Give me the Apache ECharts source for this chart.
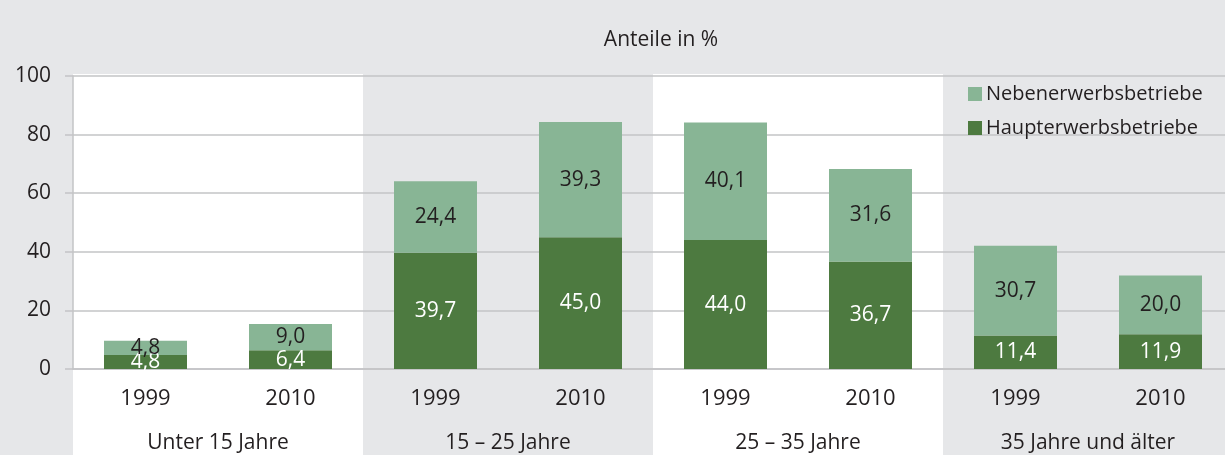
<!DOCTYPE html>
<html>
<head>
<meta charset="utf-8">
<script src="https://cdn.jsdelivr.net/npm/echarts@6/dist/echarts.min.js"></script>
<style>
  html, body { margin: 0; padding: 0; background: #e6e7e9; }
  #chart { width: 1225px; height: 455px; }
</style>
</head>
<body>
<div id="chart"></div>
<script>
// Daten
var years = ['1999', '2010', '1999', '2010', '1999', '2010', '1999', '2010'];
var groups = ['Unter 15 Jahre', '15 – 25 Jahre', '25 – 35 Jahre', '35 Jahre und älter'];
var haupt = [4.8, 6.4, 39.7, 45.0, 44.0, 36.7, 11.4, 11.9];
var neben = [4.8, 9.0, 24.4, 39.3, 40.1, 31.6, 30.7, 20.0];
var yTicks = [0, 20, 40, 60, 80, 100];

var FONT = 'Open Sans';
var TEXT = '#231f20';
var LINE = '#c3c4c6';

// Zahl mit Komma
var fmt = function(p) {
    return p.value.toFixed(1).replace('.', ',');
};

var chart = echarts.init(document.getElementById('chart'));

var option = {
    backgroundColor: '#e6e7e9',
    animation: false,
    textStyle: { fontFamily: FONT },
    title: {
        text: 'Anteile in %',
        left: 656,
        textAlign: 'center',
        top: 25,
        textStyle: { fontFamily: FONT, fontSize: 21, fontWeight: 'normal', color: TEXT }
    },
    legend: {
        data: ['Nebenerwerbsbetriebe', 'Haupterwerbsbetriebe'],
        orient: 'vertical',
        left: 963,
        top: 79,
        itemWidth: 14,
        itemHeight: 14,
        itemGap: 14,
        icon: 'rect',
        textStyle: { fontFamily: FONT, fontSize: 20, color: TEXT, padding: [0, 0, 0, -1] }
    },
    // Raster reicht rechts etwas über den Rand hinaus
    grid: {
        left: 73, width: 1160, top: 76, bottom: 86,
        containLabel: false,
        outerBoundsMode: 'none'
    },
    xAxis: [
        {
            type: 'category',
            data: years,
            axisLine: { lineStyle: { color: LINE, width: 1.5 } },
            axisTick: { interval: 0, length: 44, lineStyle: { color: LINE, width: 1.5 } },
            axisLabel: { interval: 0, margin: 19, fontSize: 22, color: TEXT, fontFamily: FONT }
        },
        {
            type: 'category',
            data: groups,
            position: 'bottom',
            axisLine: { show: false },
            axisTick: { interval: 0, length: 90, lineStyle: { color: LINE, width: 1.5 } },
            axisLabel: { interval: 0, margin: 64, fontSize: 21, color: TEXT, fontFamily: FONT }
        }
    ],
    yAxis: {
        type: 'value',
        min: yTicks[0],
        max: yTicks[yTicks.length - 1],
        interval: 20,
        axisLine: { show: true, lineStyle: { color: LINE, width: 1.5 } },
        axisTick: { show: true, length: 8, lineStyle: { color: LINE, width: 1.5 } },
        axisLabel: { fontSize: 21, color: TEXT, margin: 22, fontFamily: FONT },
        splitLine: { lineStyle: { color: LINE, width: 1.5 } }
    },
    series: [
        {
            // weisse Hintergrundbänder je Altersgruppe
            type: 'custom',
            name: 'bands',
            xAxisIndex: 1,
            z: -1,
            silent: true,
            data: groups.map(function(g, i) { return [i, 100]; }),
            renderItem: function(params, api) {
                if (params.dataIndex % 2 !== 0) {
                    return null;
                }
                var pt = api.coord([api.value(0), api.value(1)]);
                var w = api.size([1, 0])[0];
                return {
                    type: 'rect',
                    shape: { x: pt[0] - w / 2, y: pt[1] - 2, width: w, height: api.getHeight() - pt[1] + 2 },
                    style: { fill: '#ffffff' }
                };
            }
        },
        {
            name: 'Haupterwerbsbetriebe',
            type: 'bar',
            stack: 'total',
            barWidth: 83,
            data: haupt,
            itemStyle: { color: '#4d7a40' },
            label: {
                show: true,
                position: 'inside',
                formatter: fmt,
                color: '#ffffff',
                fontSize: 21,
                fontFamily: FONT
            }
        },
        {
            name: 'Nebenerwerbsbetriebe',
            type: 'bar',
            stack: 'total',
            barWidth: 83,
            data: neben,
            itemStyle: { color: '#88b595' },
            label: {
                show: true,
                position: 'inside',
                formatter: fmt,
                color: TEXT,
                fontSize: 21,
                fontFamily: FONT
            }
        }
    ]
};

chart.setOption(option);
</script>
</body>
</html>
